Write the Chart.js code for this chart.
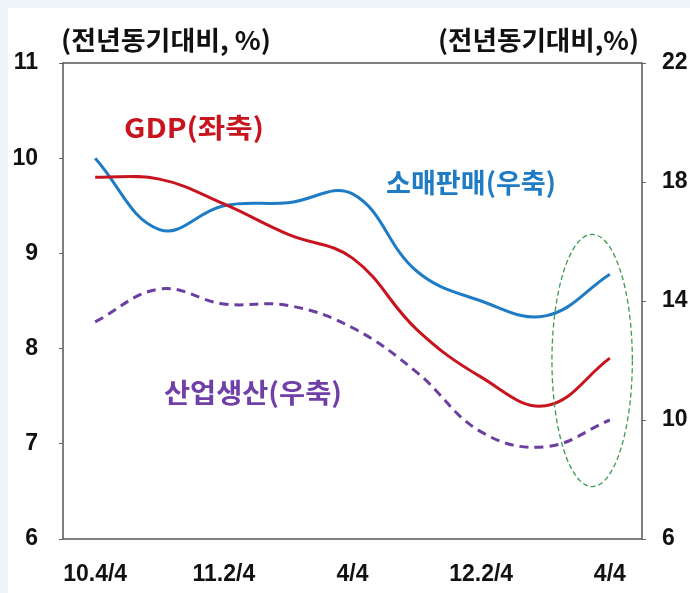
<!DOCTYPE html>
<html>
<head>
<meta charset="utf-8">
<script src="https://cdn.jsdelivr.net/npm/chart.js@4.4.0/dist/chart.umd.min.js"></script>
<style>
  html, body { margin: 0; padding: 0; background: #eef4f8; }
  #wrap { position: absolute; left: 0; top: 0; width: 690px; height: 593px; }
  #panel { position: absolute; left: 8px; top: 8px; width: 682px; height: 585px; background: #fff; }
  canvas { position: absolute; left: 0; top: 0; }
</style>
</head>
<body>
<div id="wrap">
  <div id="panel"></div>
  <canvas id="chart" width="690" height="593"></canvas>
</div>
<script>
// 분기별 전년동기대비 증가율 (%)
const quarters = ['10.4/4', '11.1/4', '11.2/4', '11.3/4', '4/4', '12.1/4', '12.2/4', '12.3/4', '4/4'];
const shownTicks = [0, 2, 4, 6, 8];
const gdp = [9.8, 9.78, 9.52, 9.2, 8.95, 8.2, 7.7, 7.4, 7.9];          // 좌축
const retailSales = [18.8, 16.4, 17.2, 17.3, 17.6, 15.0, 14.0, 13.5, 14.9]; // 우축
const industrialProd = [13.3, 14.4, 13.9, 13.85, 13.1, 11.6, 9.6, 9.1, 10.0]; // 우축
const leftTicks = [6, 7, 8, 9, 10, 11];
const rightTicks = [6, 10, 14, 18, 22];
// 강조 타원 (x: 분기 인덱스, y: 좌축 값)
const highlight = { x0: 7.1, x1: 8.35, y0: 6.55, y1: 9.2 };

const KFONT = "'Noto Sans CJK KR', 'Noto Sans', sans-serif";
const NFONT = "'Liberation Sans Narrow', 'Liberation Sans', Arial, sans-serif";

// 글자를 주어진 폭에 맞춰 가로로 늘이거나 줄여서 그림
function drawText(ctx, text, left, right, y, color, size) {
    ctx.save();
    ctx.font = 'bold ' + size + 'px ' + KFONT;
    ctx.fillStyle = color;
    ctx.textAlign = 'left';
    ctx.textBaseline = 'middle';
    const w = ctx.measureText(text).width;
    ctx.translate(left, y);
    ctx.scale((right - left) / w, 1);
    ctx.fillText(text, 0, 0);
    ctx.restore();
}

const decorations = {
    id: 'decorations',
    beforeDatasetsDraw(chart) {
        const ctx = chart.ctx;
        const a = chart.chartArea;
        ctx.save();
        ctx.strokeStyle = '#555';
        ctx.lineWidth = 1.5;
        ctx.strokeRect(a.left, a.top, a.right - a.left, a.bottom - a.top);
        ctx.restore();
    },
    afterDatasetsDraw(chart) {
        const ctx = chart.ctx;
        const xs = chart.scales.x, ys = chart.scales.y;
        const l = xs.getPixelForValue(highlight.x0), r = xs.getPixelForValue(highlight.x1);
        const t = ys.getPixelForValue(highlight.y1), b = ys.getPixelForValue(highlight.y0);
        ctx.save();
        ctx.strokeStyle = '#3a9a52';
        ctx.lineWidth = 1.3;
        ctx.setLineDash([5, 3]);
        ctx.beginPath();
        ctx.ellipse((l + r) / 2, (t + b) / 2, (r - l) / 2, (b - t) / 2, 0, 0, Math.PI * 2);
        ctx.stroke();
        ctx.restore();

        drawText(ctx, 'GDP(좌축)', 124, 264, 128, '#c8141e', 27);
        drawText(ctx, '소매판매(우축)', 386, 556, 183, '#1f7cc4', 27);
        drawText(ctx, '산업생산(우축)', 164, 342, 393, '#7040a8', 27);
        drawText(ctx, '(전년동기대비, %)', 61, 271, 40, '#111', 26);
        drawText(ctx, '(전년동기대비,%)', 438, 639, 40, '#111', 26);
    }
};

new Chart(document.getElementById('chart'), {
    type: 'line',
    data: {
        labels: quarters,
        datasets: [
            { label: 'GDP(좌축)', data: gdp, yAxisID: 'y', borderColor: '#c8141e', borderWidth: 3, tension: 0.4 },
            { label: '소매판매(우축)', data: retailSales, yAxisID: 'y2', borderColor: '#1f7cc4', borderWidth: 3, tension: 0.4 },
            { label: '산업생산(우축)', data: industrialProd, yAxisID: 'y2', borderColor: '#6a3fa0', borderWidth: 3, borderDash: [9, 6], tension: 0.4 }
        ]
    },
    options: {
        responsive: false,
        animation: false,
        layout: { padding: { top: 63, left: 0, right: 0, bottom: 0 } },
        elements: { point: { radius: 0 } },
        plugins: { legend: { display: false }, tooltip: { enabled: false } },
        scales: {
            x: {
                offset: true,
                grid: { display: false },
                border: { display: false },
                afterFit(s) { s.height = 54; },
                ticks: {
                    autoSkip: false, maxRotation: 0, padding: 14, color: '#111',
                    font: { family: NFONT, size: 23, weight: 'bold' },
                    callback(v, i) { return shownTicks.includes(i) ? quarters[i] : ''; }
                }
            },
            y: {
                position: 'left', min: 6, max: 11,
                afterFit(s) { s.width = 63; },
                afterBuildTicks(s) { s.ticks = leftTicks.map(v => ({ value: v })); },
                grid: { drawOnChartArea: false, tickLength: 4, color: '#666' },
                border: { display: false },
                ticks: { padding: 21, color: '#111', font: { family: NFONT, size: 23, weight: 'bold' } }
            },
            y2: {
                position: 'right', min: 6, max: 22,
                afterFit(s) { s.width = 48; },
                afterBuildTicks(s) { s.ticks = rightTicks.map(v => ({ value: v })); },
                grid: { drawOnChartArea: false, tickLength: 4, color: '#666' },
                border: { display: false },
                ticks: { padding: 16, color: '#111', font: { family: NFONT, size: 23, weight: 'bold' } }
            }
        }
    },
    plugins: [decorations]
});
</script>
</body>
</html>
